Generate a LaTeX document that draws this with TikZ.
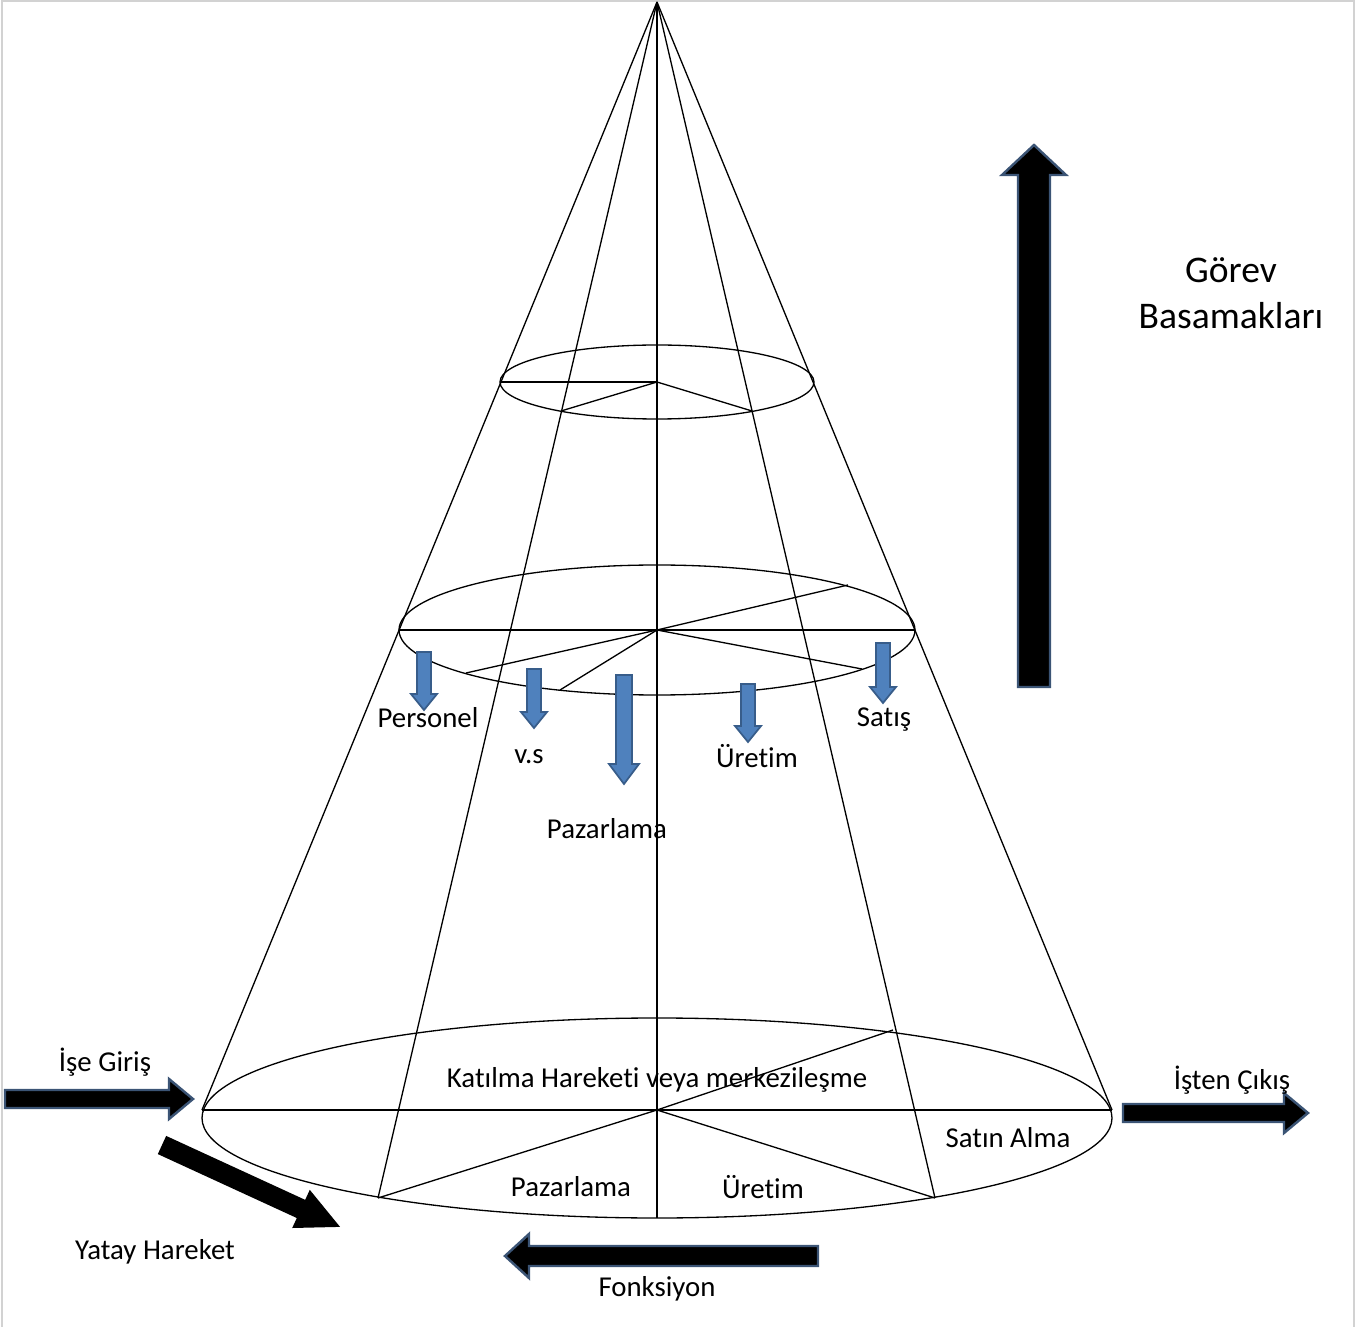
\documentclass[tikz,border=0pt]{standalone}
\usepackage{fontspec}
\setmainfont{Carlito}[RawFeature={-liga;-clig;-calt;-dlig}]
\definecolor{arrowedge}{HTML}{3B5475}
\definecolor{arrowblue}{HTML}{4F81BD}
\definecolor{arrowblueedge}{HTML}{385D8A}
\begin{document}
\begin{tikzpicture}[x=0.02cm, y=-0.02cm, line width=0.75pt,
	lbl/.style={font=\fontsize{16.4}{19}\selectfont, inner sep=0},
	darrow/.style={fill=black, draw=arrowedge, line width=1.4pt},
	yarrow/.style={fill=black, draw=none},
	barrow/.style={fill=arrowblue, draw=arrowblueedge, line width=1pt}]
	\def\blk#1#2#3#4#5#6#7{\draw[#1, shift={(#2)}, rotate=#3] (0,-#5) -- ({#4-#7},-#5) -- ({#4-#7},-#6) -- (#4,0) -- ({#4-#7},#6) -- ({#4-#7},#5) -- (0,#5) -- cycle;}
	\useasboundingbox (0,0) rectangle (1360,1327);
	\draw[gray!35, line width=1.5pt] (2,1327) -- (2,1) -- (1354,1) -- (1354,1327);

	\coordinate (apex) at (657,2);
	\coordinate (bl) at (202,1110);
	\coordinate (br) at (1112,1110);
	\coordinate (bc) at (657,1110);
	\coordinate (bfl) at (378,1198);
	\coordinate (bfr) at (935,1198);
	\coordinate (bbot) at (657,1218);
	\coordinate (bback) at (893,1030);
	\coordinate (ml) at (399,630);
	\coordinate (mr) at (915,630);
	\coordinate (mc) at (657,630);
	\coordinate (m1) at (848,585);
	\coordinate (m2) at (466,673);
	\coordinate (m3) at (560,690);
	\coordinate (m4) at (862,669);
	\coordinate (tl) at (501,382);
	\coordinate (tc) at (657,382);
	\coordinate (t1) at (561,411);
	\coordinate (t2) at (752,411);

	\draw (apex) -- (bl);
	\draw (apex) -- (br);
	\draw (apex) -- (bfl);
	\draw (apex) -- (bfr);
	\draw (apex) -- (bbot);

	\draw (657,1118) ellipse [x radius=455, y radius=100];
	\draw (bl) -- (br);
	\draw (bc) -- (bfl);
	\draw (bc) -- (bfr);
	\draw (bc) -- (bback);

	\draw (mc) ellipse [x radius=258, y radius=65];
	\draw (ml) -- (mr);
	\draw (mc) -- (m1);
	\draw (mc) -- (m2);
	\draw (mc) -- (m3);
	\draw (mc) -- (m4);

	\draw (tc) ellipse [x radius=157, y radius=37];
	\draw (tl) -- (tc);
	\draw (tc) -- (t1);
	\draw (tc) -- (t2);

	\blk{darrow}{1034,687}{90}{542}{16}{32}{30}
	\blk{darrow}{5,1099}{0}{188}{9}{20}{24}
	\blk{darrow}{1123,1113}{0}{185}{9}{20}{24}
	\blk{darrow}{818,1256}{180}{313}{10}{22}{24}
	\blk{yarrow}{162,1145}{-24.7}{196}{10}{21}{43}

	\blk{barrow}{424,652}{-90}{58}{7}{13}{16}
	\blk{barrow}{534,669}{-90}{59}{7}{13}{16}
	\blk{barrow}{624,675}{-90}{109}{8}{15}{20}
	\blk{barrow}{748,684}{-90}{58}{7}{13}{16}
	\blk{barrow}{883,643}{-90}{60}{7}{13}{16}

	\node[font=\fontsize{21.4}{26}\selectfont, align=center, inner sep=0] (gorev) at (1231,293) {Görev\\Basamakları};
	\node[lbl] (personel) at (428,718) {Personel};
	\node[lbl] (vs) at (529,757) {v.s};
	\node[lbl] (pazarlama) at (607,829) {Pazarlama};
	\node[lbl] (uretim) at (757,756) {Üretim};
	\node[lbl] (satis) at (884,720) {Satış};
	\node[lbl] (katilma) at (657,1080) {Katılma Hareketi veya merkezileşme};
	\node[lbl] (satinalma) at (1008,1138) {Satın Alma};
	\node[lbl] (pazarlama2) at (571,1187) {Pazarlama};
	\node[lbl] (uretim2) at (763,1187) {Üretim};
	\node[lbl] (isegiris) at (105,1062) {İşe Giriş};
	\node[lbl] (istencikis) at (1232,1080) {İşten Çıkış};
	\node[lbl] (yatay) at (155,1252) {Yatay Hareket};
	\node[lbl] (fonksiyon) at (657,1289) {Fonksiyon};
\end{tikzpicture}
\end{document}
